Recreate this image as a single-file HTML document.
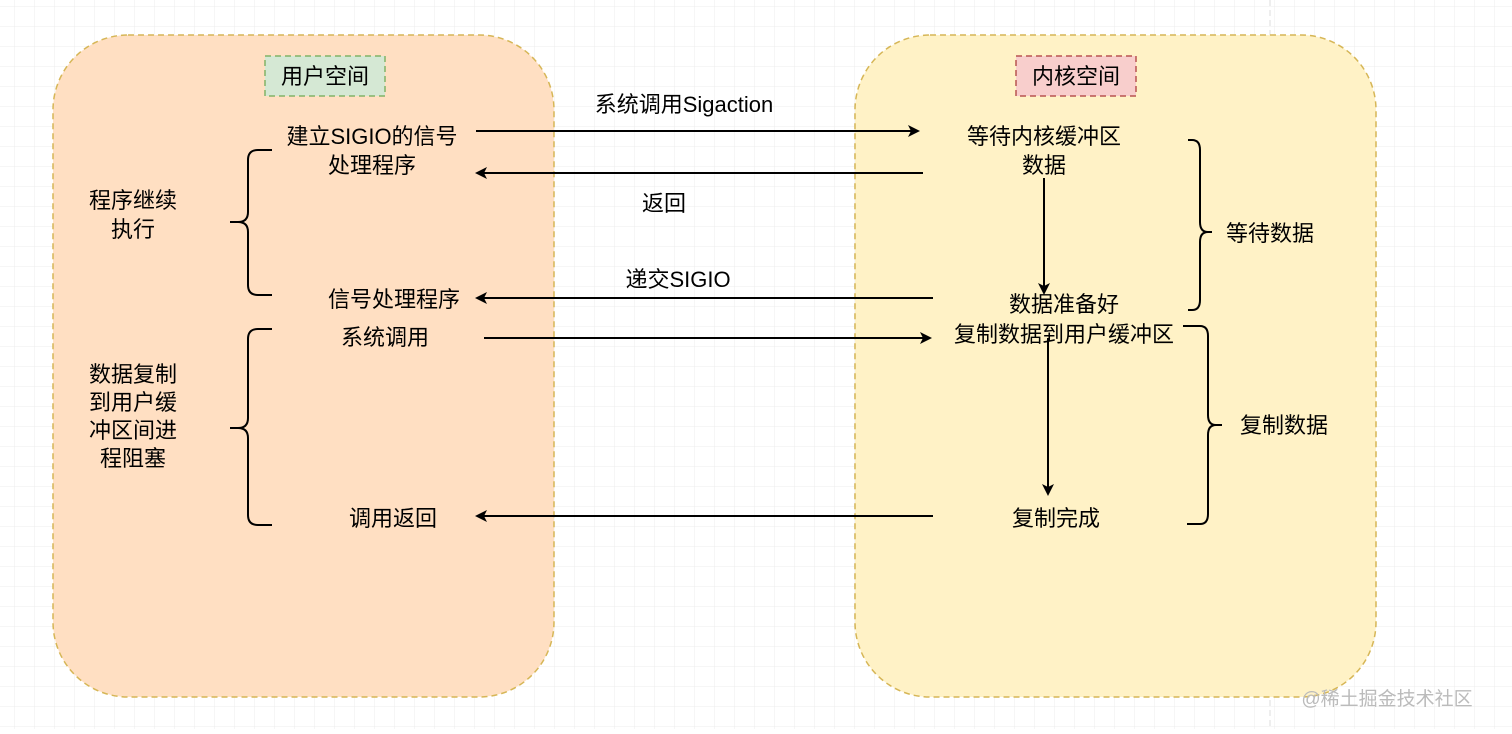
<!DOCTYPE html>
<html><head><meta charset="utf-8"><style>
html,body{margin:0;padding:0;background:#fff;}
svg text{font-family:"Liberation Sans","Noto Sans CJK SC",sans-serif;font-size:22px;fill:#000;}
</style></head><body>
<svg width="1512" height="729" viewBox="0 0 1512 729" xmlns="http://www.w3.org/2000/svg">
<defs>
<pattern id="g" x="14" y="6" width="20" height="20" patternUnits="userSpaceOnUse">
<path d="M0 0H20M0 0V20" stroke="#ececec" stroke-width="1" fill="none"/>
</pattern>
<marker id="a" markerWidth="12" markerHeight="12" refX="10" refY="6" orient="auto" markerUnits="userSpaceOnUse">
<path d="M0 0L12 6L0 12L3 6Z" fill="#000"/>
</marker>
</defs>
<rect width="1512" height="729" fill="url(#g)"/>
<line x1="1270" y1="0" x2="1270" y2="729" stroke="#ddd" stroke-dasharray="6 4"/>
<rect x="53" y="35" width="501" height="662" rx="75" fill="#ffdfc2" stroke="#d6b656" stroke-width="1.5" stroke-dasharray="6 4"/>
<rect x="855" y="35" width="521" height="662" rx="75" fill="#fff2c6" stroke="#d6b656" stroke-width="1.5" stroke-dasharray="6 4"/>
<rect x="265" y="56" width="120" height="40" fill="#d5e8d4" stroke="#82b366" stroke-width="1.5" stroke-dasharray="6 4"/>
<text x="325" y="84" text-anchor="middle">用户空间</text>
<rect x="1016" y="56" width="120" height="40" fill="#f8cecc" stroke="#b85450" stroke-width="1.5" stroke-dasharray="6 4"/>
<text x="1076" y="84" text-anchor="middle">内核空间</text>

<text x="372" y="144" text-anchor="middle">建立SIGIO的信号</text>
<text x="372" y="173" text-anchor="middle">处理程序</text>
<text x="133" y="208" text-anchor="middle">程序继续</text>
<text x="133" y="237" text-anchor="middle">执行</text>
<text x="394" y="307" text-anchor="middle">信号处理程序</text>
<text x="385" y="345" text-anchor="middle">系统调用</text>
<text x="133" y="382" text-anchor="middle">数据复制</text>
<text x="133" y="410" text-anchor="middle">到用户缓</text>
<text x="133" y="438" text-anchor="middle">冲区间进</text>
<text x="133" y="466" text-anchor="middle">程阻塞</text>
<text x="393" y="526" text-anchor="middle">调用返回</text>

<text x="684" y="112" text-anchor="middle">系统调用Sigaction</text>
<text x="664" y="211" text-anchor="middle">返回</text>
<text x="678" y="287" text-anchor="middle">递交SIGIO</text>

<text x="1044" y="144" text-anchor="middle">等待内核缓冲区</text>
<text x="1044" y="173" text-anchor="middle">数据</text>
<text x="1064" y="312" text-anchor="middle">数据准备好</text>
<text x="1064" y="342" text-anchor="middle">复制数据到用户缓冲区</text>
<text x="1056" y="526" text-anchor="middle">复制完成</text>
<text x="1270" y="241" text-anchor="middle">等待数据</text>
<text x="1284" y="433" text-anchor="middle">复制数据</text>
<text x="1387" y="705" text-anchor="middle" style="font-size:19px;fill:#bbb">@稀土掘金技术社区</text>

<g stroke="#000" stroke-width="2" fill="none">
<line x1="476" y1="131" x2="918" y2="131" marker-end="url(#a)"/>
<line x1="923" y1="173" x2="477" y2="173" marker-end="url(#a)"/>
<line x1="933" y1="298" x2="477" y2="298" marker-end="url(#a)"/>
<line x1="484" y1="338" x2="930" y2="338" marker-end="url(#a)"/>
<line x1="933" y1="516" x2="477" y2="516" marker-end="url(#a)"/>
<line x1="1044" y1="178" x2="1044" y2="293" marker-end="url(#a)"/>
<line x1="1048" y1="338" x2="1048" y2="494" marker-end="url(#a)"/>
<path d="M272 150H258Q248 150 248 160V212Q248 222 238 222H230M238 222Q248 222 248 232V285Q248 295 258 295H272"/>
<path d="M272 329H258Q248 329 248 339V418Q248 428 238 428H230M238 428Q248 428 248 438V515Q248 525 258 525H272"/>
<path d="M1188 140H1192Q1200 140 1200 150V222Q1200 232 1208 232H1212M1208 232Q1200 232 1200 242V300Q1200 310 1192 310H1188"/>
<path d="M1183 326H1200Q1208 326 1208 336V415Q1208 425 1216 425H1222M1216 425Q1208 425 1208 435V514Q1208 524 1200 524H1187"/>
</g>
</svg>
</body></html>
